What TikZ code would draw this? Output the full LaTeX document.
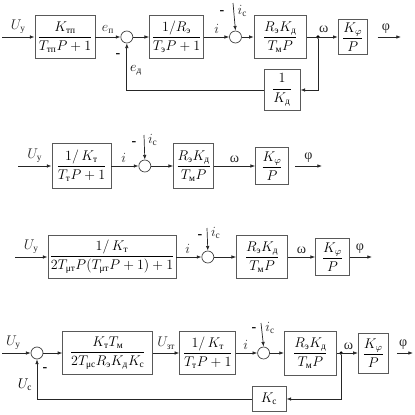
\documentclass[tikz,border=0pt]{standalone}
\usepackage{amsmath}
\usepackage{fontspec}
\setmainfont{Liberation Serif}
\usetikzlibrary{positioning, arrows.meta, calc}

\newcommand{\ru}[1]{\text{\normalfont #1}}

\begin{document}
\begin{tikzpicture}[
    x=0.03cm, y=-0.03cm,
    block/.style={draw=black!65, thick, rectangle, inner sep=1pt, font=\fontsize{12pt}{14pt}\selectfont},
    sumnode/.style={draw=black!75, semithick, circle, fill=white, minimum size=0.36cm, inner sep=0pt},
    junct/.style={circle, fill=black, inner sep=0pt, minimum size=3pt},
    edge/.style={semithick, black!85, -{Latex[length=4pt, width=3pt]}},
    varlabel/.style={font=\fontsize{12pt}{14pt}\selectfont, inner sep=1pt},
    minus/.style={font=\fontsize{12pt}{14pt}\selectfont\bfseries, inner sep=0pt}
]
\useasboundingbox (0,0) rectangle (414,415);

% Zeile 1
\node[block, minimum width=1.8cm, minimum height=1.29cm] (tp1) at (65,37) {$\dfrac{K_{\ru{тп}}}{T_{\ru{тп}}P+1}$};
\node[sumnode, right=0.75cm of tp1] (s1) {};
\node[block, minimum width=1.62cm, minimum height=1.29cm, right=0.48cm of s1] (el1) {$\dfrac{1/R_{\ru{э}}}{T_{\ru{э}}P+1}$};
\node[sumnode, right=0.75cm of el1] (s2) {};
\node[block, minimum width=1.56cm, minimum height=1.29cm, right=0.36cm of s2] (mt1) {$\dfrac{R_{\ru{э}}K_{\ru{д}}}{T_{\ru{м}}P}$};
\node[block, minimum width=0.87cm, minimum height=1.05cm, right=0.93cm of mt1] (kp1) {$\dfrac{K_{\varphi}}{P}$};
\node[block, minimum width=1.08cm, minimum height=1.23cm] (fb1) at (282,90) {$\dfrac{1}{K_{\ru{д}}}$};
\coordinate (in1) at (2,37);
\coordinate (ic1) at (233,3);
\coordinate (j1) at (318,37);
\coordinate (o1) at (401,37);
\node[junct] (jd1) at (j1) {};

\draw[edge] (in1) -- (tp1.west) node[midway, above=2pt, varlabel] (lu1) {$U_{\ru{у}}$};
\draw[edge] (tp1.east) -- (s1.west) node[midway, above=2pt, varlabel] (le1) {$e_{\ru{п}}$};
\draw[edge] (s1.east) -- (el1.west);
\draw[edge] (el1.east) -- (s2.west) node[midway, above=2pt, varlabel] (li1) {$i$};
\draw[edge] (ic1) -- (s2.north) node[pos=0.3, right=2pt, varlabel] (lic1) {$i_{\ru{с}}$};
\draw[edge] (s2.east) -- (mt1.west);
\draw[edge] (mt1.east) -- (kp1.west) node[pos=0.55, above=2pt, varlabel] (lw1) {ω};
\draw[edge] ([xshift=0.3cm]kp1.east) -- (o1) node[pos=0.35, above=2pt, varlabel] (lf1) {φ};
\draw[edge] (jd1) |- (fb1.east);
\draw[edge] (fb1.west) -| (s1.south);
\node[minus] (m1) at (118,56) {-};
\node[minus] (m2) at (222,13) {-};
\node[varlabel] (led1) at (136,70) {$e_{\ru{д}}$};

% Zeile 2
\node[block, minimum width=1.77cm, minimum height=1.35cm] (tp2) at (81.5,166) {$\dfrac{1/\,K_{\ru{т}}}{T_{\ru{т}}P+1}$};
\node[sumnode, right=0.81cm of tp2] (s3) {};
\node[block, minimum width=1.2cm, minimum height=1.35cm, right=0.66cm of s3] (mt2) {$\dfrac{R_{\ru{э}}K_{\ru{д}}}{T_{\ru{м}}P}$};
\node[block, minimum width=0.99cm, minimum height=1.11cm, right=1.23cm of mt2] (kp2) {$\dfrac{K_{\varphi}}{P}$};
\coordinate (in2) at (18,166);
\coordinate (ic2) at (144,135);
\coordinate (o2) at (322,166);

\draw[edge] (in2) -- (tp2.west) node[midway, above=2pt, varlabel] (lu2) {$U_{\ru{у}}$};
\draw[edge] (tp2.east) -- (s3.west) node[pos=0.45, above=2pt, varlabel] (li2) {$i$};
\draw[edge] (ic2) -- (s3.north) node[pos=0.2, right=2pt, varlabel] (lic2) {$i_{\ru{с}}$};
\draw[edge] (s3.east) -- (mt2.west);
\draw[edge] (mt2.east) -- (kp2.west) node[midway, above=2pt, varlabel] (lw2) {ω};
\draw[edge] ([xshift=0.18cm]kp2.east) -- (o2) node[midway, above=2pt, varlabel] (lf2) {φ};
\node[minus] (m3) at (134,144) {-};

% Zeile 3
\node[block, minimum width=3.84cm, minimum height=1.29cm] (tp3) at (112,257) {$\dfrac{1/\,K_{\ru{т}}}{2T_{\ru{μт}}P(T_{\ru{μт}}P+1)+1}$};
\node[sumnode, right=0.75cm of tp3] (s4) {};
\node[block, minimum width=1.53cm, minimum height=1.29cm, right=0.66cm of s4] (mt3) {$\dfrac{R_{\ru{э}}K_{\ru{д}}}{T_{\ru{м}}P}$};
\node[block, minimum width=1.02cm, minimum height=1.11cm, right=0.81cm of mt3] (kp3) {$\dfrac{K_{\varphi}}{P}$};
\coordinate (in3) at (15,257);
\coordinate (ic3) at (207,228);
\coordinate (o3) at (372,257);

\draw[edge] (in3) -- (tp3.west) node[midway, above=2pt, varlabel] (lu3) {$U_{\ru{у}}$};
\draw[edge] (tp3.east) -- (s4.west) node[pos=0.45, above=2pt, varlabel] (li3) {$i$};
\draw[edge] (ic3) -- (s4.north) node[pos=0.2, right=2pt, varlabel] (lic3) {$i_{\ru{с}}$};
\draw[edge] (s4.east) -- (mt3.west);
\draw[edge] (mt3.east) -- (kp3.west) node[midway, above=2pt, varlabel] (lw3) {ω};
\draw[edge] (kp3.east) -- (o3) node[pos=0.45, above=2pt, varlabel] (lf3) {φ};
\node[minus] (m4) at (200,237) {-};

% Zeile 4
\node[sumnode] (s5) at (37,353) {};
\node[block, minimum width=2.7cm, minimum height=1.29cm, right=0.57cm of s5] (rc4) {$\dfrac{K_{\ru{т}}T_{\ru{м}}}{2T_{\ru{μс}}R_{\ru{э}}K_{\ru{д}}K_{\ru{с}}}$};
\node[block, minimum width=1.68cm, minimum height=1.29cm, right=0.78cm of rc4] (tp4) {$\dfrac{1/\,K_{\ru{т}}}{T_{\ru{т}}P+1}$};
\node[sumnode, right=0.63cm of tp4] (s6) {};
\node[block, minimum width=1.56cm, minimum height=1.32cm, right=0.42cm of s6] (mt4) {$\dfrac{R_{\ru{э}}K_{\ru{д}}}{T_{\ru{м}}P}$};
\node[block, minimum width=0.9cm, minimum height=1.2cm, right=0.63cm of mt4] (kp4) {$\dfrac{K_{\varphi}}{P}$};
\node[block, minimum width=1.02cm, minimum height=0.75cm] (kc4) at (269,399) {$K_{\ru{с}}$};
\coordinate (in4) at (2,353);
\coordinate (ic4) at (261,323);
\coordinate (j4) at (341,353);
\coordinate (o4) at (413,353);
\node[junct] (jd4) at (j4) {};

\draw[edge] (in4) -- (s5.west) node[pos=0.4, above=2pt, varlabel] (lu4) {$U_{\ru{у}}$};
\draw[edge] (s5.east) -- (rc4.west);
\draw[edge] (rc4.east) -- (tp4.west) node[midway, above=2pt, varlabel] (lz4) {$U_{\ru{зт}}$};
\draw[edge] (tp4.east) -- (s6.west) node[pos=0.45, above=2pt, varlabel] (li4) {$i$};
\draw[edge] (ic4) -- (s6.north) node[pos=0.2, right=2pt, varlabel] (lic4) {$i_{\ru{с}}$};
\draw[edge] (s6.east) -- (mt4.west);
\draw[edge] (mt4.east) -- (kp4.west) node[pos=0.55, above=2pt, varlabel] (lw4) {ω};
\draw[edge] ([xshift=0.24cm]kp4.east) -- (o4) node[pos=0.4, above=2pt, varlabel] (lf4) {φ};
\draw[edge] (jd4) |- (kc4.east);
\draw[edge] (kc4.west) -| (s5.south);
\node[minus] (m5) at (45,370) {-};
\node[minus] (m6) at (254,330) {-};
\node[varlabel] (luc4) at (25,385) {$U_{\ru{с}}$};

\end{tikzpicture}
\end{document}
